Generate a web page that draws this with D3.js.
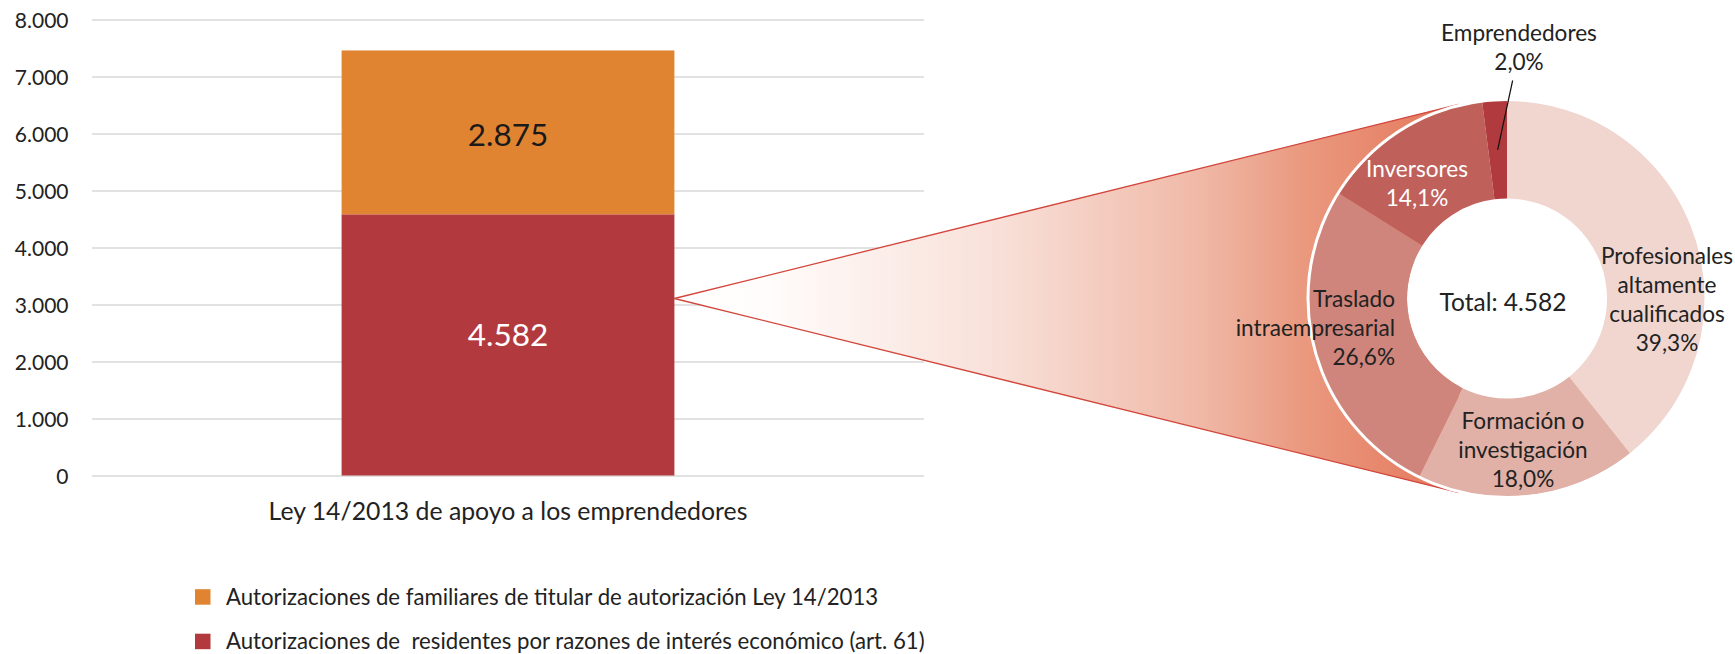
<!DOCTYPE html>
<html><head><meta charset="utf-8">
<script src="https://cdn.jsdelivr.net/npm/d3@7"></script>
<style>
html,body{margin:0;padding:0;background:#fff;}
svg{display:block;font-family:Lato, "Open Sans", sans-serif;}
</style>
</head><body>
<svg id="chart" width="1735" height="654"></svg>
<script>
// ---------------- DATA ----------------
const categories = ["Ley 14/2013 de apoyo a los emprendedores"];
const seriesKeys = ["residentes", "familiares"];
const seriesNames = [
  "Autorizaciones de  residentes por razones de interés económico (art. 61)",
  "Autorizaciones de familiares de titular de autorización Ley 14/2013"
];
const residentesValues = [4582];
const familiaresValues = [2875];
const yTicks = [0, 1000, 2000, 3000, 4000, 5000, 6000, 7000, 8000];
const yMax = 8000;

const donutNames = [
  ["Profesionales", "altamente", "cualificados"],
  ["Formación o", "investigación"],
  ["Traslado", "intraempresarial"],
  ["Inversores"],
  ["Emprendedores"]
];
const donutShares = [39.3, 18.0, 26.6, 14.1, 2.0];
const donutTotal = 4582;
const donutTotalLabel = "Total: ";

// ---------------- STYLE ----------------
const barColors = {residentes: "#b23a3e", familiares: "#e08431"};
const sliceColors = ["#f0d6cf", "#e1b0a7", "#cf857c", "#c0605b", "#b03a3e"];
const sliceTextColors = ["#222", "#222", "#222", "#fff", "#222"];
const textColor = "#222";

const es = d3.formatLocale({decimal: ",", thousands: ".", grouping: [3], currency: ["", "€"]});
const fmtInt = es.format(",d");
const fmtPct = v => es.format(",.1f")(v) + "%";

const svg = d3.select("#chart");

// ---------------- BAR CHART ----------------
const plot = {left: 92, right: 924, top: 19.5, bottom: 475.5};
const x = d3.scaleBand().domain(categories).range([plot.left, plot.right])
  .paddingInner(0.6).paddingOuter(0.3);
const y = d3.scaleLinear().domain([0, yMax]).range([plot.bottom, plot.top]);

const yAxis = d3.axisLeft(y).tickValues(yTicks).tickFormat(fmtInt)
  .tickSize(-(plot.right - plot.left)).tickPadding(23.5);
const gA = svg.append("g").attr("transform", `translate(${plot.left},0)`).call(yAxis);
gA.select(".domain").remove();
gA.selectAll(".tick line").attr("stroke", "#d9d9d9").attr("stroke-width", 1.4);
gA.selectAll(".tick text").attr("fill", textColor).attr("font-size", 21)
  .attr("font-family", "Lato").attr("dy", "0.36em");

const table = categories.map((c, i) => ({cat: c, residentes: residentesValues[i], familiares: familiaresValues[i]}));
const stacked = d3.stack().keys(seriesKeys)(table);

// callout geometry
const donut = {cx: 1507, cy: 298.5, R: 198, r: 100};
const barRight = x(categories[0]) + x.bandwidth();
const apex = [barRight, donut.cy];
const dx = donut.cx - apex[0], dy0 = donut.cy - apex[1];
const dist = Math.hypot(dx, dy0);
const Rt = donut.R + 2;
const alpha = Math.asin(Rt / dist);
const L = Math.sqrt(dist * dist - Rt * Rt);
const base = Math.atan2(dy0, dx);
const T1 = [apex[0] + L * Math.cos(base - alpha), apex[1] + L * Math.sin(base - alpha)];
const T2 = [apex[0] + L * Math.cos(base + alpha), apex[1] + L * Math.sin(base + alpha)];

const defs = svg.append("defs");
const grad = defs.append("linearGradient").attr("id", "cone")
  .attr("gradientUnits", "userSpaceOnUse")
  .attr("x1", apex[0]).attr("y1", 0).attr("x2", T1[0]).attr("y2", 0);
[[0, "#ffffff"], [0.107, "#fffdfc"], [0.413, "#f8e0d8"], [0.668, "#f0b9a7"], [0.796, "#ea9a80"], [1, "#e4765a"]]
  .forEach(s => grad.append("stop").attr("offset", s[0]).attr("stop-color", s[1]));

svg.append("path")
  .attr("d", `M${apex[0]},${apex[1]}L${T1[0]},${T1[1]}L${T2[0]},${T2[1]}Z`)
  .attr("fill", "url(#cone)");
svg.append("line").attr("x1", apex[0]).attr("y1", apex[1]).attr("x2", T1[0]).attr("y2", T1[1])
  .attr("stroke", "#d2463c").attr("stroke-width", 1.3);
svg.append("line").attr("x1", apex[0]).attr("y1", apex[1]).attr("x2", T2[0]).attr("y2", T2[1])
  .attr("stroke", "#d2463c").attr("stroke-width", 1.3);

// bars
const gBars = svg.append("g");
stacked.forEach(s => {
  gBars.selectAll(null).data(s).join("rect")
    .attr("x", d => x(d.data.cat))
    .attr("width", x.bandwidth())
    .attr("y", d => y(d[1]))
    .attr("height", d => y(d[0]) - y(d[1]))
    .attr("fill", barColors[s.key]);
});
const labelNudge = {residentes: -10, familiares: 2};
const labelFill = {residentes: "#fff", familiares: "#1a1a1a"};
stacked.forEach(s => {
  gBars.selectAll(null).data(s).join("text")
    .attr("x", d => x(d.data.cat) + x.bandwidth() / 2)
    .attr("y", d => (y(d[0]) + y(d[1])) / 2 + labelNudge[s.key])
    .attr("dy", "0.36em")
    .attr("text-anchor", "middle")
    .attr("font-size", 31.5)
    .attr("fill", labelFill[s.key])
    .text(d => fmtInt(d[1] - d[0]));
});

// category label
svg.append("g").selectAll("text").data(categories).join("text")
  .attr("x", d => x(d) + x.bandwidth() / 2)
  .attr("y", plot.bottom + 36)
  .attr("dy", "0.36em")
  .attr("text-anchor", "middle")
  .attr("font-size", 24.8)
  .attr("fill", textColor)
  .text(d => d);

// legend (familiares first)
const legendItems = [
  {name: seriesNames[1], color: barColors.familiares},
  {name: seriesNames[0], color: barColors.residentes}
];
const gL = svg.append("g");
legendItems.forEach((it, i) => {
  const cy = 597 + i * 44.5;
  gL.append("rect").attr("x", 195).attr("y", cy - 7.8).attr("width", 15.5).attr("height", 15.5).attr("fill", it.color);
  gL.append("text").attr("x", 226).attr("y", cy).attr("dy", "0.36em")
    .attr("xml:space", "preserve").style("white-space", "pre")
    .attr("font-size", 22.2).attr("fill", textColor).text(it.name);
});

// ---------------- DONUT ----------------
const pie = d3.pie().sort(null).value(d => d)(donutShares);
const arc = d3.arc().innerRadius(donut.r).outerRadius(donut.R);
const gD = svg.append("g").attr("transform", `translate(${donut.cx},${donut.cy})`);
gD.append("circle").attr("r", donut.r).attr("fill", "#fff");
gD.selectAll("path.slice").data(pie).join("path").attr("class", "slice")
  .attr("d", arc).attr("fill", (d, i) => sliceColors[i]);
gD.append("circle").attr("r", donut.R + 1).attr("fill", "none")
  .attr("stroke", "#fff").attr("stroke-width", 3);

gD.append("text").attr("x", -4).attr("y", 3.5).attr("dy", "0.36em")
  .attr("text-anchor", "middle").attr("font-size", 24.5).attr("fill", textColor)
  .text(donutTotalLabel + fmtInt(donutTotal));

const placements = [
  {x: 160, cy: 0.7, anchor: "middle"},
  {x: 16, cy: 151.5, anchor: "middle"},
  {x: -112, cy: 29.2, anchor: "end"},
  {x: -90, cy: -115.5, anchor: "middle"},
  {x: 12, cy: -251, anchor: "middle"}
];
const lineH = 28.8;
pie.forEach((p, i) => {
  const lines = donutNames[i].concat([fmtPct(donutShares[i])]);
  const pl = placements[i];
  const y0 = pl.cy - (lines.length - 1) * lineH / 2;
  const t = gD.append("text").attr("text-anchor", pl.anchor)
    .attr("font-size", 22.6).attr("fill", sliceTextColors[i]);
  lines.forEach((ln, k) => {
    t.append("tspan").attr("x", pl.x).attr("y", y0 + k * lineH).attr("dy", "0.36em").text(ln);
  });
});
const small = pie[4];
const cen = arc.centroid(small);
gD.append("line").attr("x1", cen[0]).attr("y1", cen[1])
  .attr("x2", cen[0] + 15).attr("y2", -donut.R - 20)
  .attr("stroke", "#111").attr("stroke-width", 1.2);
</script>
</body></html>
